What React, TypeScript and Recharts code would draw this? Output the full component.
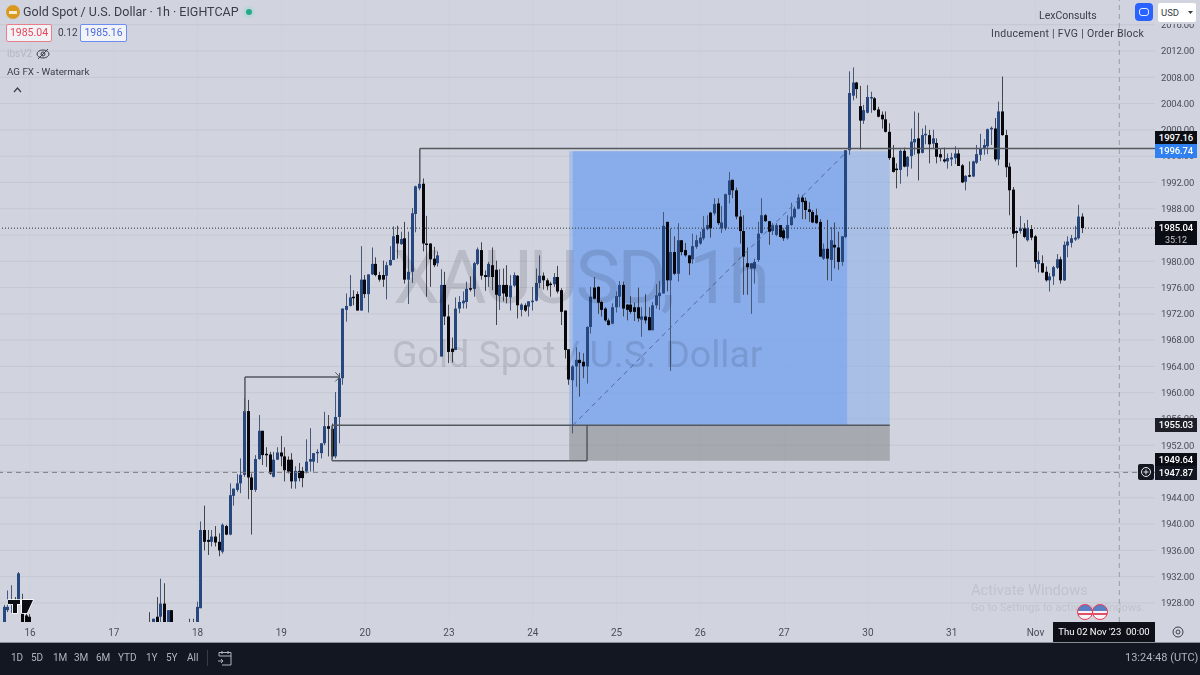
import React from 'react';
import { ComposedChart, Bar, XAxis, YAxis, CartesianGrid, ReferenceLine, ReferenceArea } from 'recharts';

// rows are [open, close, high, low], one per 1h bar
const oct15Tail = [
  [1924, 1927.4, 1927.7, 1924], [1926.9, 1927.4, 1929.9, 1926.6], [1927.7, 1928.2, 1930.7, 1926.5], [1928.4, 1927.6, 1928.9, 1927],
  [1928.4, 1932.5, 1932.7, 1928.2], [1926.4, 1924, 1929.4, 1924], [1926.1, 1924, 1926.6, 1924], [1925.9, 1924, 1926.3, 1924],
];
const oct17Tail = [
  [1924.5, 1924.2, 1926.6, 1924], [1924, 1925.6, 1925.6, 1924], [1925.9, 1924, 1928.9, 1924], [1925.9, 1927.9, 1931.7, 1924],
  [1927.9, 1924, 1931, 1924], [1924, 1926.9, 1926.9, 1924], [1926.9, 1924, 1926.9, 1924],
];
const oct18To20 = [
  [1924.5, 1924.2, 1925.6, 1924], [1924.5, 1924.2, 1925.6, 1924], [1924, 1927.4, 1928.2, 1924], [1927.2, 1939.1, 1940.4, 1927.2],
  [1939.1, 1937.3, 1942.8, 1936], [1937.6, 1937.3, 1939.1, 1935.3], [1937.3, 1938.1, 1939.1, 1936.6], [1938.1, 1937.2, 1939.7, 1936.6],
  [1937.3, 1936, 1938.6, 1935.1], [1935.8, 1939.9, 1940.1, 1935.5], [1939.7, 1938.4, 1939.9, 1938.3], [1938.4, 1944.4, 1946.2, 1938.3],
  [1944.3, 1945.4, 1945.4, 1942.8], [1945.2, 1946.2, 1947.6, 1944.9], [1946.2, 1947.5, 1950, 1944.7], [1947.5, 1957.2, 1959.2, 1947.2],
  [1957.2, 1947.1, 1958.9, 1943.8], [1947.1, 1945.2, 1947.7, 1938.4], [1945.2, 1949.9, 1950.5, 1944.9], [1949.9, 1954.2, 1956.6, 1949.8],
  [1954.2, 1950.5, 1954.2, 1949], [1950.7, 1950.5, 1951.7, 1948.7], [1950.6, 1947.7, 1951, 1947.5], [1947.2, 1949.8, 1951, 1947.1],
  [1949.8, 1950.9, 1951.7, 1949.8], [1950.9, 1950.3, 1953.4, 1948.8], [1950.3, 1948.2, 1951.7, 1946.5], [1949.8, 1948, 1950.3, 1947.7],
  [1949.8, 1946.5, 1950.8, 1945.4], [1946.5, 1948.1, 1948.8, 1945.4], [1948.1, 1947, 1949.3, 1946.5], [1948.1, 1947, 1948.7, 1945.6],
  [1948, 1949.5, 1952.9, 1947.7], [1949.5, 1949.9, 1954.6, 1948], [1949.5, 1950.8, 1950.8, 1948], [1950.8, 1951, 1951.4, 1949.3],
  [1950.8, 1952.3, 1952.3, 1950], [1952.3, 1954.9, 1957.1, 1952], [1954.9, 1954.5, 1956.6, 1950.3], [1954.5, 1950.3, 1955.3, 1950],
  [1950.3, 1956.3, 1960.1, 1950], [1956.3, 1962.2, 1963, 1952.3], [1962.2, 1972.8, 1972.8, 1961.2], [1972.6, 1973.2, 1975.1, 1970.8],
  [1973.2, 1974.5, 1977.9, 1973.1], [1974.6, 1974.4, 1975.6, 1973.3], [1975, 1972.5, 1975.4, 1972.5], [1972.5, 1977.2, 1982.3, 1972.5],
  [1977.2, 1975, 1977.9, 1974.4], [1975, 1978, 1978, 1972.2], [1978, 1979.6, 1982.1, 1977.9], [1979.6, 1977.9, 1980.6, 1977.7],
  [1977.9, 1977.2, 1978.4, 1976.9], [1977.9, 1977.2, 1980.1, 1976.1], [1977.8, 1979.4, 1979.9, 1974.2], [1979.4, 1980.2, 1982.3, 1979.3],
  [1980.2, 1983.8, 1985.3, 1980.2],
];
const oct20To24 = [
  [1984, 1982.7, 1985.4, 1980.4], [1982.6, 1983.4, 1984.5, 1982.5], [1983.5, 1977.2, 1986, 1976.6], [1977.2, 1978.4, 1984.5, 1973.5],
  [1978.4, 1987.3, 1988.1, 1976.7], [1987.2, 1991.4, 1991.5, 1984.4], [1991.1, 1991.8, 1992.6, 1990.8], [1991.8, 1982.7, 1992.6, 1981.5],
  [1982.7, 1982.6, 1986.9, 1974.6], [1982.7, 1980.3, 1982.7, 1976.1], [1980.4, 1979.4, 1982.2, 1979.1], [1979.7, 1980.9, 1981.5, 1979.2],
  [1965.5, 1976.4, 1978.8, 1965.5], [1976.4, 1971.6, 1978.4, 1970.3], [1971.6, 1966.2, 1973.4, 1964.5], [1966.7, 1966.2, 1968.4, 1964.6],
  [1966.5, 1972.8, 1974.5, 1966.5], [1972.8, 1973.8, 1974.7, 1972.1], [1973.6, 1974, 1975.4, 1972.8], [1973.8, 1975.8, 1976.9, 1972.8],
  [1975.9, 1975.7, 1977.7, 1975.4], [1975.8, 1979.7, 1979.9, 1974.6], [1979.6, 1981.8, 1982.1, 1979.4], [1981.7, 1977.8, 1982.9, 1977.2],
  [1977.9, 1977.6, 1978.6, 1975.5], [1977.6, 1979.6, 1979.9, 1976.1], [1979.4, 1977.6, 1982.1, 1975.6], [1978.7, 1974.9, 1980.1, 1970.3],
  [1974.7, 1976.4, 1978.8, 1972.6], [1976.4, 1975.1, 1978.9, 1973.9], [1976.4, 1974.6, 1979.4, 1973.6], [1974.5, 1976.3, 1977.9, 1972.5],
  [1976.3, 1977.9, 1978.3, 1976.1], [1977.8, 1973.3, 1977.9, 1971.3], [1972.6, 1973.4, 1973.6, 1971.6], [1973.3, 1972.5, 1973.6, 1972.3],
  [1973.1, 1973.9, 1973.9, 1971.6], [1973.9, 1974, 1976.1, 1972.5], [1974, 1976.7, 1978.9, 1973.9], [1976.7, 1977.8, 1980.9, 1975.9],
  [1977.8, 1977.1, 1978.3, 1975.7], [1977.1, 1976.2, 1977.4, 1975.6], [1976.6, 1976.4, 1976.9, 1974.6], [1976.5, 1977.6, 1978.2, 1976.1],
  [1977.6, 1975.4, 1979.3, 1975.1], [1975.6, 1972.3, 1975.9, 1970.3], [1972.5, 1966.5, 1972.5, 1965.2], [1966.6, 1962, 1966.6, 1961.2],
];
const oct24To27 = [
  [1961.9, 1964, 1964.2, 1953.8], [1964, 1965, 1966.9, 1960.9], [1965, 1964.5, 1966.2, 1959.4], [1964.7, 1964, 1966, 1962.2],
  [1964, 1970, 1970.1, 1961.4], [1970, 1974.6, 1976.1, 1969], [1976, 1974.3, 1977.6, 1974.2], [1976.1, 1973.7, 1976.2, 1972],
  [1973.8, 1972.6, 1974, 1971.6], [1972.8, 1971, 1973, 1970.8], [1971, 1970.3, 1971.3, 1970.2], [1970.5, 1973, 1973.6, 1970.4],
  [1973, 1974.7, 1975.4, 1972.2], [1974.6, 1976.4, 1977, 1973], [1976.4, 1972.8, 1976.9, 1971.6], [1973.4, 1972.6, 1973.5, 1971],
  [1973.4, 1972.3, 1974.7, 1972], [1973, 1972.3, 1973.7, 1970.9], [1973, 1971.3, 1976, 1970.8], [1971.1, 1971.6, 1973, 1968.5],
  [1971.6, 1971, 1975, 1970.5], [1971.5, 1969.5, 1973, 1969.5], [1969.5, 1973.3, 1973.8, 1969.5], [1973.3, 1974.8, 1976.5, 1972.8],
  [1974.7, 1975.2, 1977, 1972.6], [1975.1, 1985.4, 1987.5, 1975.1], [1986, 1977.1, 1986, 1975.4], [1977.1, 1981.4, 1985, 1963.3],
  [1981.4, 1978.1, 1983.8, 1977.9], [1978.1, 1983.2, 1985.8, 1976.9], [1983.2, 1981.4, 1983.2, 1980.9], [1981.7, 1980.9, 1982.8, 1980.7],
  [1980.9, 1979.7, 1980.9, 1977.9], [1980.3, 1982.3, 1984.2, 1979.6], [1982.2, 1983.2, 1984, 1981.9], [1982.7, 1983.6, 1984.5, 1982.5],
  [1983.5, 1984.9, 1986.9, 1983.2], [1984.9, 1985.5, 1987, 1984.7], [1987.4, 1985, 1987.5, 1983.6], [1987.3, 1988.7, 1989.6, 1987],
  [1988.8, 1985.8, 1989.6, 1985.5], [1985, 1985.9, 1988.4, 1984.3], [1985, 1990.2, 1990.3, 1984.7], [1990.1, 1992.3, 1993.6, 1988.8],
  [1992.4, 1990.8, 1992.4, 1989.6], [1990.8, 1986.8, 1991.2, 1986.4], [1986.8, 1984.6, 1987.8, 1982.7], [1984.6, 1980.7, 1987, 1974.9],
  [1979.7, 1979.1, 1982.1, 1974.9], [1978.9, 1979.7, 1979.7, 1972], [1978.9, 1979.9, 1980.4, 1976.6], [1980.2, 1984.2, 1986, 1979.9],
  [1984.3, 1987, 1989.6, 1984.2], [1987, 1986.1, 1987.2, 1986], [1986.1, 1984.5, 1986.1, 1982.5], [1984.6, 1985.5, 1985.8, 1984],
  [1984, 1985.5, 1985.8, 1983.8], [1985.5, 1983.7, 1985.5, 1983.6], [1984.7, 1983.5, 1985, 1983.1], [1983.5, 1985.5, 1987, 1983.3],
  [1985.5, 1986.8, 1988.9, 1985.4], [1986.7, 1988, 1988.3, 1986.5], [1988, 1989.7, 1990.2, 1987.9], [1989.7, 1989, 1990.1, 1986.4],
  [1989.2, 1987.8, 1989.7, 1986.4], [1987.9, 1987.5, 1989, 1986], [1987.5, 1985.9, 1987.8, 1985.8], [1987, 1985.8, 1988, 1985.7],
  [1986, 1980.7, 1986.4, 1980.7], [1980.4, 1981.9, 1982.7, 1980.2], [1981.9, 1980.4, 1986.3, 1977.1], [1980.2, 1983.2, 1985.2, 1977],
  [1982.5, 1982.1, 1985.9, 1978.9], [1982.1, 1979.9, 1984.5, 1978.7], [1979.9, 1983.8, 1983.8, 1979.3], [1983.7, 1996.9, 1996.9, 1983.5],
];
const oct30ToNov = [
  [1996.9, 2005.6, 2008.9, 1996.2], [2005.2, 2007.2, 2009.5, 2004.5], [2007.2, 2006.2, 2007.3, 2004.8], [2003.6, 2001.4, 2006.7, 1997],
  [2001.4, 2003, 2003.8, 2000.9], [2002.6, 2005, 2006.8, 2002.5], [2004.8, 2005, 2005.8, 2002.6], [2004.8, 2003, 2005, 2002.9],
  [2003.1, 2002, 2003.5, 2001.9], [2002.3, 2001.6, 2002.8, 2000.2], [2001.6, 1999.7, 2002.8, 1999.6], [1999.7, 1995.7, 2001, 1995.4],
  [1995.8, 1993.6, 1997.7, 1993.5], [1994.1, 1993.9, 1994.9, 1991.1], [1993.9, 1996.8, 1997, 1991.8], [1996.8, 1994.4, 1997.3, 1994.3],
  [1994.4, 1995.9, 1996, 1992.9], [1996, 1998.2, 2000.2, 1994.1], [1998.1, 1998.6, 2002.8, 1996.2], [1998.7, 1996.4, 2002.6, 1992.3],
  [1996.5, 1999.2, 2000.2, 1996.4], [1999.2, 1999.4, 2000.7, 1997.8], [1999.2, 1997.8, 2000, 1994.9], [1997.9, 1998.7, 2000, 1997.2],
  [1998, 1995.9, 1998.7, 1994.9], [1996.3, 1995.8, 1997.2, 1995.2], [1995.5, 1995.2, 1997.3, 1995], [1995.2, 1995.7, 1996.4, 1994.1],
  [1995.5, 1995.8, 1996.5, 1994.5], [1995.7, 1996.4, 1997.5, 1994.8], [1996.4, 1994.5, 1997, 1994.5], [1994.6, 1992, 1994.8, 1991.9],
  [1992.1, 1993, 1993.1, 1990.8], [1993.1, 1992.9, 1995.2, 1992.8], [1992.9, 1995.2, 1995.3, 1992.8], [1995, 1996.3, 1997.7, 1994.8],
  [1996.2, 1997.2, 1999.4, 1995.3], [1997.2, 1997.7, 1998.6, 1996.2], [1997.5, 2000.1, 2000.2, 1996.3], [2000.1, 2000.3, 2000.5, 1997.7],
  [2000.2, 1995.5, 2001.8, 1995.2], [1995.5, 2002.8, 2004.3, 1994.6], [2002.8, 1999.2, 2008.1, 1999.1], [1999.2, 1994.3, 2000, 1992.8],
  [1994.4, 1990.8, 1995, 1987], [1990.9, 1984.2, 1991.3, 1983.5], [1984.6, 1984.3, 1984.7, 1979.1], [1984.6, 1985, 1986.9, 1984.2],
  [1985, 1983.7, 1985.8, 1983.5], [1983.2, 1985, 1986.3, 1983], [1984.9, 1983.6, 1985.5, 1983.2], [1983.8, 1979.9, 1984, 1978.9],
  [1979.6, 1980.2, 1981.5, 1978.3], [1979.7, 1978.3, 1980.9, 1978.2], [1978.4, 1977.1, 1979.2, 1976.9], [1977.1, 1977.7, 1978.2, 1975.4],
  [1977.7, 1979.1, 1979.3, 1976.4], [1979, 1980.3, 1981.1, 1978.8], [1980.3, 1977.1, 1980.7, 1976.6], [1977.1, 1982.5, 1983, 1977],
  [1982.4, 1983, 1983.8, 1980.6], [1982.8, 1983.5, 1984, 1982.1], [1983.3, 1983.6, 1985.4, 1983.1], [1983.5, 1986.8, 1988.6, 1983.3],
  [1986.8, 1985.04, 1987.3, 1984.3],
];

const legStarts = [-7, 33, 44, 101, 149, 225];
const legs = [oct15Tail, oct17Tail, oct18To20, oct20To24, oct24To27, oct30ToNov];

const dayTickIndex = [0, 23, 46, 69, 92, 115, 138, 161, 184, 207, 230, 253, 276];
const dayTickLabels = ['16', '17', '18', '19', '20', '23', '24', '25', '26', '27', '30', '31', 'Nov'];
const priceTicks = [1928, 1932, 1936, 1940, 1944, 1948, 1952, 1956, 1960, 1964, 1968, 1972, 1976, 1980, 1984, 1988, 1992, 1996, 2000, 2004, 2008, 2012, 2016];
const rangeButtons = ['1D', '5D', '1M', '3M', '6M', 'YTD', '1Y', '5Y', 'All'];
const rangeButtonX = [11, 31, 53, 74, 96, 118, 146, 166, 187];

const lastPrice = 1985.04;
const crossPrice = 1947.87;
const crossIndex = 299;
const stopPrice = 1949.64;
const entryPrice = 1955.03;
const targetPrice = 1996.74;
const inducementPrice = 1997.16;
const swingPrice = 1962.4;

const candles = legs.flatMap((rows, n) =>
  rows.map((r, k) => ({
    i: legStarts[n] + k,
    open: r[0],
    close: r[1],
    high: Math.max(r[0], r[1], r[2]),
    low: Math.min(r[0], r[1], r[3]),
    range: [Math.min(r[0], r[1], r[3]), Math.max(r[0], r[1], r[2])],
  }))
);

const FONT = 'Roboto, "Noto Sans", sans-serif';
const BG = '#d1d4de';
const LINE = '#55585f';

function Candle(props: any) {
  const { x, y, width, height, payload } = props;
  const up = payload.close >= payload.open;
  const unit = height / (payload.high - payload.low || 1);
  const top = y + (payload.high - Math.max(payload.open, payload.close)) * unit;
  const bodyH = Math.max(1.5, Math.abs(payload.close - payload.open) * unit);
  const left = Math.round(x + width / 2 - 1.5);
  return (
    <g>
      <rect x={left + 1} y={y} width={1} height={height} fill={up ? '#46597c' : '#45464c'} />
      <rect x={left} y={top} width={3} height={bodyH} fill={up ? '#27477f' : '#08080c'} />
    </g>
  );
}

function Tag({ top, h = 14, bg = '#0b0d14', color = '#fff', children }: any) {
  return (
    <div style={{ position: 'absolute', left: 1155, top, width: 42, height: h, background: bg, color, fontSize: 9.5, letterSpacing: -0.1, lineHeight: '14px', textAlign: 'center', fontWeight: 500 }}>
      {children}
    </div>
  );
}

function Abs({ x, y, size = 11, color = '#3a3d47', weight = 400, spacing = 0, children }: any) {
  return (
    <div style={{ position: 'absolute', left: x, top: y, fontSize: size, color, fontWeight: weight, letterSpacing: spacing, whiteSpace: 'nowrap', lineHeight: 1 }}>
      {children}
    </div>
  );
}

function Flag({ x }: { x: number }) {
  return (
    <div style={{ position: 'absolute', left: x - 8, top: 604, width: 16, height: 16, borderRadius: 8, border: '1.5px solid #ea3b55', boxSizing: 'border-box', background: 'linear-gradient(#5b7fc4 0 45%, #f4f4f6 45% 60%, #e0526a 60% 75%, #f4f4f6 75%)' }} />
  );
}

export default function App() {
  return (
    <div style={{ position: 'absolute', left: 0, top: 0, width: 1200, height: 675, overflow: 'hidden', background: BG, fontFamily: FONT }}>
      <div style={{ position: 'absolute', left: 0, top: 0 }}>
        <ComposedChart width={1200} height={642} data={candles} margin={{ top: 0, right: 0, bottom: 0, left: 0 }}>
          {/* day lines are much fainter than price lines */}
          <CartesianGrid stroke="#cdd0da" horizontal={false} verticalValues={dayTickIndex} />
          <CartesianGrid stroke="#c5c8d2" vertical={false} horizontalValues={priceTicks} />
          <XAxis
            type="number"
            dataKey="i"
            domain={[-8.235, 308.8]}
            allowDataOverflow
            ticks={dayTickIndex}
            tickFormatter={(v: number) => dayTickLabels[dayTickIndex.indexOf(v)]}
            interval={0}
            height={20}
            axisLine={false}
            tickLine={false}
            tickSize={0}
            tickMargin={7}
            tick={{ fontSize: 10, fill: '#4a4d57' }}
          />
          <YAxis
            orientation="right"
            type="number"
            domain={[1925.1, 2019.76]}
            allowDataOverflow
            ticks={priceTicks}
            interval={0}
            width={45}
            axisLine={false}
            tickLine={false}
            tickSize={0}
            tickMargin={6}
            tickFormatter={(v: number) => v.toFixed(2)}
            tick={{ fontSize: 9.5, fill: '#4a4d57', letterSpacing: -0.2 }}
          />

          <ReferenceArea x1={148} x2={236} y1={entryPrice} y2={targetPrice} fill="#8fb2ec" fillOpacity={0.62} stroke="none" />
          <ReferenceArea x1={149} x2={224.3} y1={entryPrice} y2={targetPrice} fill="#6f9fee" fillOpacity={0.55} stroke="none" />
          <ReferenceArea x1={148} x2={236} y1={stopPrice} y2={entryPrice} fill="#84858b" fillOpacity={0.55} stroke="none" />

          <ReferenceLine segment={[{ x: 107, y: inducementPrice }, { x: 308.8, y: inducementPrice }]} stroke={LINE} strokeWidth={1.5} />
          <ReferenceLine segment={[{ x: 107, y: inducementPrice }, { x: 107, y: 1992 }]} stroke={LINE} strokeWidth={1.5} />
          <ReferenceLine segment={[{ x: 83, y: entryPrice }, { x: 236, y: entryPrice }]} stroke={LINE} strokeWidth={1.5} />
          <ReferenceLine segment={[{ x: 82.9, y: stopPrice }, { x: 152.9, y: stopPrice }]} stroke={LINE} strokeWidth={1.5} />
          <ReferenceLine segment={[{ x: 82.9, y: stopPrice }, { x: 82.9, y: entryPrice }]} stroke={LINE} strokeWidth={1.5} />
          <ReferenceLine segment={[{ x: 152.9, y: stopPrice }, { x: 152.9, y: entryPrice }]} stroke={LINE} strokeWidth={1.5} />
          <ReferenceLine segment={[{ x: 59, y: swingPrice }, { x: 85, y: swingPrice }]} stroke={LINE} strokeWidth={1.5} />
          <ReferenceLine segment={[{ x: 59, y: swingPrice }, { x: 59, y: 1957 }]} stroke={LINE} strokeWidth={1.5} />
          <ReferenceLine segment={[{ x: 85, y: swingPrice }, { x: 83.8, y: swingPrice + 0.7 }]} stroke={LINE} />
          <ReferenceLine segment={[{ x: 85, y: swingPrice }, { x: 83.8, y: swingPrice - 0.7 }]} stroke={LINE} />
          <ReferenceLine segment={[{ x: 149, y: entryPrice }, { x: 224.3, y: targetPrice }]} stroke="#4d6a9e" strokeDasharray="5 4" />
          <ReferenceLine y={lastPrice} stroke="#2b2d33" strokeDasharray="1 2" />
          <ReferenceLine y={crossPrice} stroke="#7b7e86" strokeDasharray="5 4" />
          <ReferenceLine x={crossIndex} stroke="#9a9da6" strokeDasharray="5 4" />

          <Bar dataKey="range" barSize={3} shape={<Candle />} isAnimationActive={false} />
        </ComposedChart>
      </div>

      {/* symbol watermark, multiplied so it shows through the shading but not over the candles */}
      <div style={{ position: 'absolute', left: 0, top: 0, width: 1155, height: 622, mixBlendMode: 'multiply', pointerEvents: 'none' }}>
        <Abs x={393} y={240} size={75} color="#e2e2e4" spacing={-2.5}>XAUUSD, 1h</Abs>
        <Abs x={392} y={336} size={37.5} color="#e2e2e4">Gold Spot / U.S. Dollar</Abs>
      </div>

      {/* legend block */}
      <div style={{ position: 'absolute', left: 6, top: 5, width: 14, height: 14, borderRadius: 7, background: '#d99a1e' }} />
      <div style={{ position: 'absolute', left: 9, top: 11, width: 8, height: 3, background: '#f6ecd2' }} />
      <Abs x={23} y={6} size={12.5}>Gold Spot / U.S. Dollar · 1h · EIGHTCAP</Abs>
      <div style={{ position: 'absolute', left: 246, top: 9, width: 6, height: 6, borderRadius: 3, background: '#26a88a', boxShadow: '0 0 0 3px #bcd5d6' }} />
      <div style={{ position: 'absolute', left: 6, top: 24, width: 44, height: 16, border: '1px solid #e8808a', borderRadius: 2, background: '#f2f3f6', color: '#e5455a', fontSize: 10.5, lineHeight: '16px', textAlign: 'center' }}>1985.04</div>
      <Abs x={58} y={28} size={10}>0.12</Abs>
      <div style={{ position: 'absolute', left: 80, top: 24, width: 45, height: 16, border: '1px solid #6d8cf2', borderRadius: 2, background: '#f2f3f6', color: '#4a6ae0', fontSize: 10.5, lineHeight: '16px', textAlign: 'center' }}>1985.16</div>
      <Abs x={7} y={49} size={10} color="#b4b7c1">ibsV2</Abs>
      <svg style={{ position: 'absolute', left: 36, top: 47 }} width={14} height={14}>
        <ellipse cx={7} cy={7} rx={6} ry={4} fill="none" stroke="#3a3d47" />
        <circle cx={7} cy={7} r={2} fill="none" stroke="#3a3d47" />
        <line x1={2} y1={12} x2={12} y2={2} stroke="#3a3d47" />
      </svg>
      <Abs x={7} y={67} size={9.8}>AG FX - Watermark</Abs>
      <svg style={{ position: 'absolute', left: 13, top: 87 }} width={9} height={6}>
        <polyline points="1,5 4.5,1 8,5" fill="none" stroke="#3a3d47" strokeWidth={1.2} />
      </svg>

      {/* top right */}
      <Abs x={1039} y={11} size={10.5}>LexConsults</Abs>
      <Abs x={991} y={29} size={10.5} spacing={0.28}>Inducement | FVG | Order Block</Abs>
      <div style={{ position: 'absolute', left: 1155, top: 0, width: 45, height: 24, background: BG }} />
      <div style={{ position: 'absolute', left: 1135, top: 3, width: 18, height: 18, borderRadius: 4, background: '#2962ff' }}>
        <svg width={18} height={18}>
          <rect x={4.5} y={5.5} width={9} height={7} rx={2.5} fill="none" stroke="#e8ecff" />
        </svg>
      </div>
      <div style={{ position: 'absolute', left: 1158, top: 3, width: 38, height: 19, borderRadius: 2, background: '#fff', color: '#3a3d47', fontSize: 9.5, lineHeight: '19px', paddingLeft: 3, boxSizing: 'border-box' }}>USD</div>
      <svg style={{ position: 'absolute', left: 1188, top: 11 }} width={5} height={4}>
        <polygon points="0,0 5,0 2.5,3" fill="#3a3d47" />
      </svg>

      {/* price tags */}
      <Tag top={131}>1997.16</Tag>
      <Tag top={144} bg="#2f80f0">1996.74</Tag>
      <div style={{ position: 'absolute', left: 1155, top: 221, width: 42, height: 24, background: '#0b0d14', color: '#fff', fontSize: 9.5, letterSpacing: -0.1, fontWeight: 500, lineHeight: '12px', textAlign: 'center', paddingTop: 1, boxSizing: 'border-box' }}>
        1985.04
        <br />
        <span style={{ fontSize: 9, color: '#c8cad0', fontWeight: 400 }}>35:12</span>
      </div>
      <Tag top={418} bg="#1d2029">1955.03</Tag>
      <Tag top={453}>1949.64</Tag>
      <Tag top={466} bg="#131722">1947.87</Tag>
      <div style={{ position: 'absolute', left: 1138, top: 464, width: 16, height: 16, background: '#131722', borderRadius: 2 }}>
        <svg width={16} height={16}>
          <circle cx={8} cy={8} r={4.5} fill="none" stroke="#e5e6ea" />
          <path d="M8 5.5v5M5.5 8h5" stroke="#e5e6ea" />
        </svg>
      </div>

      {/* TV badge */}
      <svg style={{ position: 'absolute', left: 7, top: 599 }} width={27} height={17}>
        <path d="M1 1h12v4h-3v9H6V5H1z M15 1h11l-6 13h-5z" fill="#0b0d14" stroke="#fff" strokeWidth={1.5} paintOrder="stroke" />
      </svg>

      <Abs x={971} y={583} size={14.7} color="#c0c3cd">Activate Windows</Abs>
      <Abs x={971} y={602} size={11} color="#c0c3cd">Go to Settings to activate Windows.</Abs>
      <Flag x={1085} />
      <Flag x={1100} />

      {/* cross time label + settings */}
      <div style={{ position: 'absolute', left: 1053, top: 622, width: 102, height: 20, background: '#0e1018', color: '#fff', fontSize: 9.5, lineHeight: '20px', textAlign: 'center', whiteSpace: 'pre' }}>Thu 02 Nov '23  00:00</div>
      <svg style={{ position: 'absolute', left: 1172, top: 626 }} width={12} height={12}>
        <circle cx={6} cy={6} r={5} fill="none" stroke="#3a3d47" />
        <circle cx={6} cy={6} r={2} fill="none" stroke="#3a3d47" />
      </svg>

      {/* bottom toolbar */}
      <div style={{ position: 'absolute', left: 0, top: 642, width: 1200, height: 33, background: '#131722', borderTop: '1px solid #8a8d96', boxSizing: 'border-box' }} />
      {rangeButtons.map((b, n) => (
        <Abs key={b} x={rangeButtonX[n]} y={653} size={10} color="#b2b5be">{b}</Abs>
      ))}
      <div style={{ position: 'absolute', left: 207, top: 650, width: 1, height: 16, background: '#3a3d47' }} />
      <svg style={{ position: 'absolute', left: 217, top: 650 }} width={16} height={16}>
        <path d="M2 6V2.5h12V15H5M2 6h12M5 1v3M11 1v3M1 11h5M4 9l2 2-2 2" fill="none" stroke="#b2b5be" />
      </svg>
      <Abs x={1125} y={652} size={11} color="#b2b5be">13:24:48 (UTC)</Abs>
    </div>
  );
}
